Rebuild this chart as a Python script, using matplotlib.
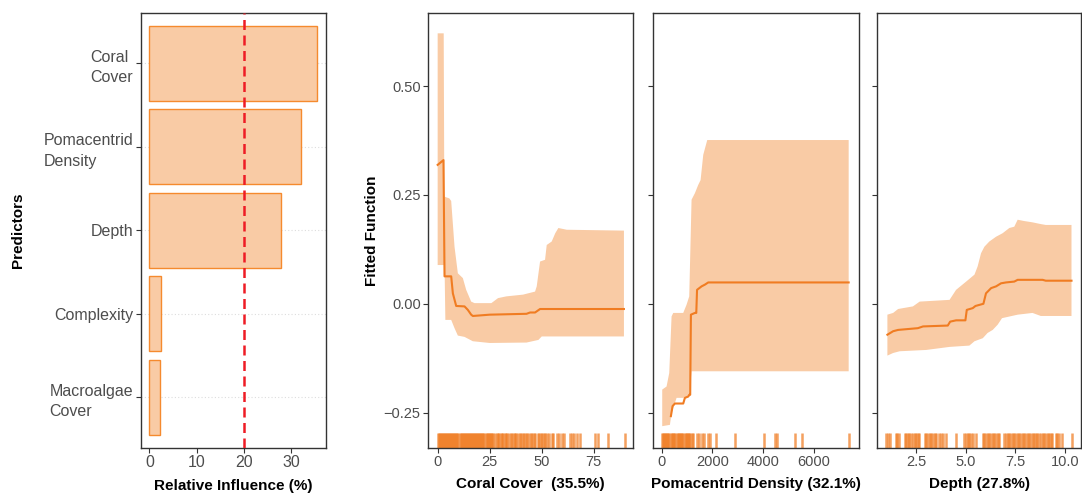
"""Boosted regression tree summary: relative influence + partial dependence plots."""

import matplotlib
matplotlib.use("Agg")
import matplotlib.pyplot as plt
import numpy as np

plt.rcParams["font.family"] = ["Liberation Sans", "DejaVu Sans"]

# ---- data -------------------------------------------------------------
predictors = ["Coral\nCover", "Pomacentrid\nDensity", "Depth", "Complexity", "Macroalgae\nCover"]
influence = [35.5, 32.1, 27.8, 2.4, 2.2]

# Coral cover partial dependence
coral_x = [0, 2.8, 3.3, 6.5, 7.3, 8.9, 12.9, 14.5, 16.1, 16.9, 25, 42.7, 44.4, 46.8, 49.2, 89.5]
coral_fit = [0.319, 0.330, 0.063, 0.063, 0.024, -0.005, -0.006, -0.014, -0.025, -0.028,
             -0.025, -0.023, -0.020, -0.020, -0.012, -0.012]
coral_up_x = [0, 2.9, 3.2, 5.6, 6.5, 8.1, 9.7, 12.1, 13.7, 16.1, 17.7, 25.8, 29, 33, 41,
              46.8, 47.6, 49.2, 51.6, 52.4, 54.8, 56.5, 58, 62, 89.5]
coral_up_y = [0.621, 0.621, 0.246, 0.242, 0.236, 0.131, 0.070, 0.059, 0.032, 0.005, 0.0015,
              0.0015, 0.013, 0.017, 0.021, 0.028, 0.040, 0.097, 0.101, 0.135, 0.143, 0.162,
              0.174, 0.170, 0.168]
coral_lo_x = [0, 3.3, 3.7, 6.5, 8.1, 9.7, 12.9, 16.9, 25, 42.7, 48.4, 50, 89.5]
coral_lo_y = [0.089, 0.089, -0.037, -0.037, -0.056, -0.073, -0.076, -0.086, -0.090, -0.089,
              -0.083, -0.075, -0.075]
coral_rug = [0, 0.5, 1, 1.5, 2, 2.5, 3, 3.5, 4, 4.5, 5, 5.5, 6, 6.5, 7, 7.5, 8, 8.5, 9, 9.5,
             10, 10.5, 11, 11.5, 12, 12.5, 13, 13.5, 14, 14.5, 15, 15.5, 16, 16.5, 17, 17.5,
             18, 18.5, 19, 19.5, 20, 20.5, 21, 21.5, 22, 22.5, 23, 23.5, 24, 24.5, 25, 25.5,
             26, 26.8, 27.5, 28.5, 29, 29.6, 30.4, 31, 31.5, 32.2, 33, 33.5, 34.3, 35, 35.6,
             36.5, 37, 37.8, 38.5, 39.5, 40, 40.8, 41.5, 42.5, 43, 44, 44.8, 45.5, 46.5, 47,
             48, 48.6, 49.5, 50, 51, 51.8, 52.5, 53.5, 54.9, 55.5, 57.3, 58.5, 59.7, 60.8,
             63.4, 64.5, 65.7, 66.9, 68.6, 75.8, 76.9, 81.8, 89.8]

# Pomacentrid density partial dependence
pom_x = [368, 434, 526, 855, 921, 1053, 1092, 1130, 1158, 1316, 1370, 1400, 1579, 1711, 1842, 7384]
pom_fit = [-0.258, -0.235, -0.229, -0.229, -0.216, -0.213, -0.209, -0.209, -0.025, -0.021,
           -0.021, 0.032, 0.040, 0.044, 0.049, 0.049]
pom_up_x = [26, 197, 303, 395, 461, 855, 987, 1092, 1184, 1316, 1447, 1540, 1645, 1803, 7384]
pom_up_y = [-0.197, -0.190, -0.159, -0.029, -0.021, -0.021, -0.002, 0.017, 0.239, 0.254,
            0.273, 0.284, 0.342, 0.376, 0.376]
pom_lo_x = [26, 329, 395, 592, 855, 1092, 1184, 7384]
pom_lo_y = [-0.281, -0.278, -0.251, -0.216, -0.216, -0.213, -0.155, -0.155]
pom_rug = [0, 40, 90, 130, 180, 220, 270, 310, 360, 400, 450, 500, 540, 590, 630, 680, 720,
           770, 820, 860, 910, 950, 1000, 1050, 1090, 1140, 1190, 1240, 1381, 1484, 1579,
           1670, 1840, 1907, 2143, 2893, 4038, 4472, 4539, 5261, 5526, 7384]

# Depth partial dependence
depth_x = [1.04, 1.33, 1.58, 2.58, 2.84, 4.09, 4.21, 4.51, 4.98, 5.05, 5.35, 5.49, 5.89,
           6.02, 6.28, 6.53, 6.78, 7.03, 7.45, 7.62, 8.88, 9.04, 10.34]
depth_fit = [-0.071, -0.063, -0.060, -0.056, -0.052, -0.050, -0.041, -0.038, -0.038, -0.014,
             -0.010, -0.005, 0.0, 0.024, 0.036, 0.040, 0.047, 0.049, 0.051, 0.055, 0.055,
             0.053, 0.053]
depth_up_x = [1.04, 1.33, 1.58, 1.83, 2.33, 2.67, 4.18, 4.51, 5.02, 5.44, 5.6, 5.77, 5.94,
              6.19, 6.53, 6.86, 7.2, 7.45, 7.62, 7.95, 8.37, 8.79, 9.04, 10.34]
depth_up_y = [-0.025, -0.021, -0.012, -0.010, -0.006, 0.005, 0.009, 0.032, 0.051, 0.067,
              0.086, 0.116, 0.131, 0.143, 0.154, 0.162, 0.174, 0.177, 0.193, 0.190, 0.187,
              0.183, 0.181, 0.181]
depth_lo_x = [1.04, 1.33, 1.66, 3.0, 4.18, 5.18, 5.44, 5.86, 6.1, 6.36, 6.61, 6.83, 7.62,
              8.37, 8.79, 10.34]
depth_lo_y = [-0.119, -0.113, -0.109, -0.106, -0.099, -0.096, -0.086, -0.079, -0.067, -0.060,
              -0.048, -0.033, -0.025, -0.021, -0.028, -0.028]
depth_rug = [0.99, 1.07, 1.19, 1.47, 1.55, 1.63, 1.93, 2.0, 2.08, 2.15, 2.22, 2.35, 2.42, 2.5,
             2.58, 2.66, 2.92, 3.0, 3.08, 3.17, 3.25, 3.33, 3.42, 3.5, 3.67, 3.76, 3.84, 3.98,
             4.51, 4.93, 5.02, 5.1, 5.18, 5.27, 5.35, 5.52, 5.86, 5.94, 6.02, 6.1, 6.19, 6.27,
             6.36, 6.44, 6.53, 6.61, 6.69, 6.94, 7.03, 7.11, 7.2, 7.28, 7.36, 7.45, 7.53, 7.62,
             7.7, 7.78, 7.87, 7.95, 8.04, 8.12, 8.2, 8.29, 8.37, 8.46, 8.54, 8.62, 8.71, 8.79,
             8.88, 8.96, 9.04, 9.13, 9.21, 9.3, 9.38, 9.55, 9.63, 9.71, 9.85, 10.35]

# ---- style ------------------------------------------------------------
ORANGE = "#F07C22"
PEACH = "#F9CBA5"
SPINE = "#333333"
TICKTXT = "#4D4D4D"

W, H = 1082, 496
fig = plt.figure(figsize=(W / 100, H / 100), dpi=100)


def px_axes(left, right, top=13.3, bottom=447.5):
    return fig.add_axes([left / W, (H - bottom) / H, (right - left) / W, (bottom - top) / H])


def style(ax, size):
    for s in ax.spines.values():
        s.set_color(SPINE)
        s.set_linewidth(1.0)
    ax.tick_params(colors=SPINE, labelcolor=TICKTXT, labelsize=size, length=3.5, width=0.8, pad=2)


# ---- panel 1: relative influence -------------------------------------
ax1 = px_axes(141, 325.5)
ypos = np.arange(len(predictors))[::-1] + 1
for y in ypos:
    ax1.axhline(y, color="#DDDDDD", lw=0.8, ls=(0, (1, 2)), zorder=0)
ax1.barh(ypos, influence, height=0.9, color=PEACH, edgecolor="#F58A2E", linewidth=1.0, zorder=2)
ax1.axvline(20, color="#EE1C25", lw=1.8, ls=(0, (4, 2.2)), zorder=3)
ax1.set_xlim(-1.78, 37.3)
ax1.set_ylim(0.4, 5.6)
ax1.set_xticks([0, 10, 20, 30])
ax1.set_yticks(ypos)
ax1.set_yticklabels(predictors)
for t in ax1.get_yticklabels():
    t.set_multialignment("left")
    t.set_linespacing(1.45)
style(ax1, 11.5)
ax1.set_xlabel("Relative Influence (%)", fontsize=11, fontweight="bold")
ax1.xaxis.set_label_coords(0.5, -0.088)
ax1.xaxis.label.set_va("center")
ax1.set_ylabel("Predictors", fontsize=11, fontweight="bold")
ax1.yaxis.set_label_coords(-0.668, 0.5)
ax1.yaxis.label.set_va("center")

# ---- panels 2-4: partial dependence ----------------------------------
panels = [
    (428.3, 633.3, coral_x, coral_fit, coral_up_x, coral_up_y, coral_lo_x, coral_lo_y, coral_rug,
     (-4.5, 94.0), [0, 25, 50, 75], "Coral Cover  (35.5%)", "%d"),
    (652.7, 858.7, pom_x, pom_fit, pom_up_x, pom_up_y, pom_lo_x, pom_lo_y, pom_rug,
     (-350, 7780), [0, 2000, 4000, 6000], "Pomacentrid Density (32.1%)", "%d"),
    (877.3, 1081, depth_x, depth_fit, depth_up_x, depth_up_y, depth_lo_x, depth_lo_y, depth_rug,
     (0.53, 10.82), [2.5, 5.0, 7.5, 10.0], "Depth (27.8%)", "%.1f"),
]

for i, (l, r, fx, fy, ux, uy, lx, ly, rug, xlim, xt, xlab, fmt) in enumerate(panels):
    ax = px_axes(l, r)
    ax.fill(np.r_[ux, lx[::-1]], np.r_[uy, ly[::-1]], color=PEACH, lw=0, zorder=1)
    ax.plot(fx, fy, color=ORANGE, lw=1.5, zorder=3)
    ax.vlines(rug, 0, 0.033, transform=ax.get_xaxis_transform(), color=ORANGE,
              lw=1.8, alpha=0.72, zorder=2)
    ax.set_xlim(*xlim)
    ax.set_ylim(-0.33, 0.667)
    ax.set_xticks(xt)
    ax.set_xticklabels([fmt % v for v in xt])
    ax.set_yticks([-0.25, 0.0, 0.25, 0.5])
    if i == 0:
        ax.set_yticklabels(["\u22120.25", "0.00", "0.25", "0.50"])
        ax.set_ylabel("Fitted Function", fontsize=11, fontweight="bold")
        ax.yaxis.set_label_coords(-0.276, 0.5)
        ax.yaxis.label.set_va("center")
    else:
        ax.set_yticklabels([])
    style(ax, 10.5)
    ax.set_xlabel(xlab, fontsize=11, fontweight="bold")
    ax.xaxis.set_label_coords(0.5, -0.085)
    ax.xaxis.label.set_va("center")

fig.savefig("out.png", dpi=100)
